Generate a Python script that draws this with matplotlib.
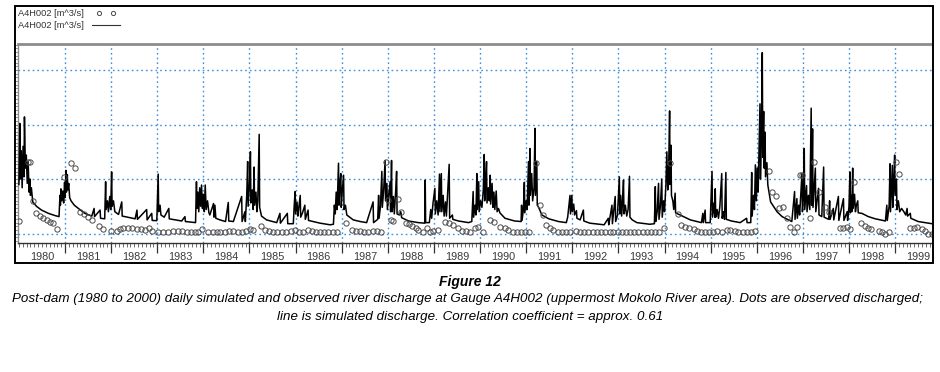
import matplotlib

matplotlib.use("Agg")
import matplotlib.pyplot as plt
from matplotlib.lines import Line2D
from matplotlib.patches import Rectangle
from matplotlib.ticker import MultipleLocator

plt.rcParams["font.family"] = ["Liberation Sans", "DejaVu Sans"]

# simulated discharge (decimal year, value) traced off the hydrograph
sim_t = [
    1980.00, 1980.02, 1980.03, 1980.05, 1980.07, 1980.09, 1980.11, 1980.12, 1980.14, 1980.16,
    1980.18, 1980.20, 1980.22, 1980.24, 1980.25, 1980.27, 1980.30, 1980.38, 1980.49, 1980.64,
    1980.78, 1980.87,
    1980.89, 1980.90, 1980.91, 1980.93, 1980.95, 1980.97, 1980.99, 1981.00, 1981.02, 1981.03,
    1981.05, 1981.06, 1981.08, 1981.10, 1981.13, 1981.20, 1981.29, 1981.43, 1981.58, 1981.63,
    1981.64, 1981.76, 1981.77, 1981.86,
    1981.88, 1981.89, 1981.92, 1981.94, 1981.97, 1981.99, 1982.01, 1982.02, 1982.05, 1982.08,
    1982.16, 1982.23, 1982.24, 1982.30, 1982.52, 1982.56, 1982.57, 1982.77, 1982.78, 1982.88,
    1982.89, 1982.99,
    1983.02, 1983.03, 1983.06, 1983.08, 1983.15, 1983.25, 1983.26, 1983.53, 1983.60, 1983.61,
    1983.83,
    1983.85, 1983.86, 1983.88, 1983.90, 1983.92, 1983.94, 1983.96, 1983.98, 1984.00, 1984.02,
    1984.04, 1984.06, 1984.09, 1984.12, 1984.14, 1984.22, 1984.23, 1984.25, 1984.27, 1984.36,
    1984.48, 1984.54, 1984.55, 1984.65, 1984.83, 1984.84, 1984.90, 1984.91,
    1984.94, 1984.96, 1984.97, 1985.00, 1985.02, 1985.03, 1985.06, 1985.08, 1985.10, 1985.11,
    1985.14, 1985.16, 1985.18, 1985.21, 1985.22, 1985.26, 1985.37, 1985.59, 1985.66, 1985.67,
    1985.82, 1985.83, 1985.95,
    1985.97, 1985.99, 1986.00, 1986.03, 1986.05, 1986.07, 1986.10, 1986.11, 1986.15, 1986.20,
    1986.21, 1986.27, 1986.28, 1986.33, 1986.53, 1986.75, 1986.82,
    1986.84, 1986.86, 1986.88, 1986.90, 1986.93, 1986.94, 1986.96, 1986.98, 1986.99, 1987.01,
    1987.04, 1987.05, 1987.08, 1987.11, 1987.25, 1987.40, 1987.54, 1987.68, 1987.69, 1987.78,
    1987.80, 1987.81,
    1987.84, 1987.87, 1987.88, 1987.91, 1987.94, 1987.95, 1987.98, 1987.99, 1988.02, 1988.05,
    1988.06, 1988.08, 1988.09, 1988.12, 1988.14, 1988.17, 1988.19, 1988.20, 1988.25, 1988.28,
    1988.30, 1988.45, 1988.66, 1988.80, 1988.81, 1988.82, 1988.90,
    1988.93, 1988.95, 1988.98, 1989.02, 1989.03, 1989.06, 1989.09, 1989.12, 1989.13, 1989.16,
    1989.17, 1989.20, 1989.22, 1989.25, 1989.27, 1989.33, 1989.34, 1989.40, 1989.41, 1989.53,
    1989.75, 1989.82,
    1989.85, 1989.86, 1989.89, 1989.91, 1989.93, 1989.94, 1989.97, 1989.98, 1990.01, 1990.04,
    1990.07, 1990.09, 1990.10, 1990.12, 1990.14, 1990.15, 1990.18, 1990.20, 1990.22, 1990.23,
    1990.26, 1990.28, 1990.30, 1990.32, 1990.35, 1990.37, 1990.40, 1990.43, 1990.54, 1990.75,
    1990.89, 1990.90, 1990.91,
    1990.94, 1990.96, 1990.97, 1991.00, 1991.02, 1991.05, 1991.06, 1991.08, 1991.09, 1991.12,
    1991.14, 1991.17, 1991.19, 1991.20, 1991.23, 1991.24, 1991.27, 1991.34, 1991.49, 1991.70,
    1991.87,
    1991.90, 1991.95, 1991.96, 1991.99, 1992.00, 1992.03, 1992.05, 1992.09, 1992.10, 1992.17,
    1992.24, 1992.25, 1992.38, 1992.69, 1992.78, 1992.79, 1992.86, 1992.87, 1992.93, 1992.94,
    1992.98,
    1993.02, 1993.03, 1993.05, 1993.07, 1993.09, 1993.11, 1993.12, 1993.15, 1993.18, 1993.21,
    1993.24, 1993.25, 1993.30, 1993.40, 1993.68, 1993.78,
    1993.80, 1993.81, 1993.84, 1993.87, 1993.88, 1993.91, 1993.94, 1993.95, 1993.98, 1994.00,
    1994.03, 1994.05, 1994.07, 1994.09, 1994.11, 1994.12, 1994.14, 1994.15, 1994.18, 1994.20,
    1994.23, 1994.24, 1994.34, 1994.56, 1994.80, 1994.83, 1994.84, 1994.88, 1994.89, 1994.99,
    1995.03, 1995.04, 1995.07, 1995.09, 1995.10, 1995.11, 1995.14, 1995.17, 1995.20, 1995.24,
    1995.25, 1995.28, 1995.30, 1995.33, 1995.34, 1995.45, 1995.64, 1995.78, 1995.79, 1995.87,
    1995.89, 1995.90, 1995.93, 1995.95, 1995.97, 1995.99, 1996.01, 1996.03, 1996.05, 1996.07,
    1996.08, 1996.10, 1996.12, 1996.13, 1996.15, 1996.16, 1996.18, 1996.19, 1996.22, 1996.24,
    1996.30, 1996.44, 1996.55, 1996.69, 1996.76,
    1996.82, 1996.83, 1996.87, 1996.88, 1996.91, 1996.93, 1996.98, 1996.99, 1997.01, 1997.03,
    1997.04, 1997.08, 1997.09, 1997.12, 1997.15, 1997.18, 1997.19, 1997.21, 1997.22, 1997.27,
    1997.28, 1997.34, 1997.35, 1997.41, 1997.45, 1997.46, 1997.56, 1997.58, 1997.59, 1997.66,
    1997.67, 1997.77, 1997.78, 1997.88, 1997.89, 1997.96, 1997.97,
    1998.00, 1998.02, 1998.03, 1998.05, 1998.06, 1998.08, 1998.09, 1998.12, 1998.14, 1998.16,
    1998.19, 1998.20, 1998.28, 1998.42, 1998.57, 1998.79, 1998.82, 1998.83,
    1998.87, 1998.89, 1998.90, 1998.94, 1998.95, 1998.97, 1998.99, 1999.00, 1999.03, 1999.04,
    1999.07, 1999.10, 1999.14, 1999.19, 1999.23, 1999.26, 1999.27, 1999.33, 1999.34, 1999.50,
    1999.72, 1999.80,
]
sim_q = [
    4.5, 10.1, 5.0, 7.6, 4.2, 8.0, 5.2, 10.7, 6.0, 7.2,
    4.6, 6.6, 3.8, 5.0, 3.5, 4.2, 2.9, 2.5, 2.15, 1.85,
    1.65, 1.55,
    3.5, 2.6, 4.1, 3.0, 3.9, 2.8, 4.7, 3.3, 5.8, 3.8,
    5.4, 4.0, 4.6, 3.3, 3.0, 2.6, 2.3, 1.85, 1.6, 2.3,
    1.55, 2.15, 1.4, 1.35,
    4.75, 2.2, 3.0, 2.0, 3.4, 2.2, 5.65, 2.5, 3.0, 2.0,
    1.75, 2.9, 1.6, 1.55, 1.35, 2.15, 1.3, 2.2, 1.25, 1.85,
    1.2, 1.18,
    5.45, 2.0, 2.6, 1.7, 1.5, 2.3, 1.35, 1.15, 1.55, 1.1,
    1.0,
    4.75, 2.3, 3.8, 2.0, 4.2, 2.5, 4.45, 2.3, 3.6, 2.0,
    4.45, 2.2, 3.0, 1.9, 1.7, 2.75, 1.5, 2.6, 1.4, 1.25,
    1.1, 2.85, 1.15, 1.1, 3.4, 1.1, 2.0, 1.1,
    3.5, 6.6, 2.5, 4.5, 7.5, 2.8, 4.0, 2.2, 6.1, 2.6,
    3.8, 2.0, 3.0, 9.1, 2.4, 1.6, 1.25, 1.0, 1.85, 0.95,
    1.85, 0.9, 0.9,
    2.6, 3.85, 1.8, 2.9, 1.6, 2.4, 3.5, 1.5, 1.9, 2.6,
    1.3, 2.15, 1.2, 1.15, 0.95, 0.8, 0.85,
    2.6, 1.8, 3.8, 2.2, 6.45, 2.6, 4.5, 5.5, 2.4, 3.8,
    5.35, 2.2, 2.6, 1.7, 1.25, 1.1, 1.0, 2.9, 1.0, 1.3,
    3.5, 1.4,
    2.5, 5.7, 2.4, 4.0, 6.7, 3.0, 4.6, 2.2, 3.6, 4.75,
    2.0, 6.7, 2.0, 3.4, 1.8, 3.9, 5.7, 1.8, 1.7, 2.0,
    1.45, 1.15, 1.0, 0.95, 4.9, 1.0, 1.0,
    2.2, 1.4, 2.8, 4.15, 1.8, 3.0, 1.7, 5.45, 2.0, 5.5,
    2.0, 3.5, 1.6, 2.9, 1.6, 6.35, 1.4, 1.7, 1.3, 1.15,
    1.0, 1.1,
    3.85, 1.5, 2.6, 1.7, 5.5, 2.2, 4.75, 2.0, 3.0, 2.4,
    4.0, 7.25, 3.0, 4.5, 6.6, 2.8, 4.2, 3.0, 5.35, 2.7,
    4.6, 2.4, 3.8, 2.2, 3.9, 2.0, 2.3, 1.9, 1.4, 1.15,
    1.1, 2.6, 1.2,
    2.2, 4.7, 1.9, 3.0, 2.2, 6.6, 2.6, 7.8, 3.5, 5.5,
    3.0, 4.2, 9.65, 3.5, 6.6, 2.6, 2.4, 1.7, 1.35, 1.1,
    1.0,
    1.5, 3.5, 1.8, 3.5, 2.0, 2.7, 1.7, 2.1, 1.4, 1.25,
    2.15, 1.15, 0.95, 0.8, 1.4, 0.8, 2.6, 0.9, 3.4, 1.1,
    1.7,
    5.2, 1.8, 3.5, 1.6, 3.0, 4.9, 1.8, 2.6, 1.6, 2.2,
    5.25, 1.5, 1.25, 1.0, 0.85, 0.9,
    4.3, 1.1, 2.0, 4.6, 1.3, 2.5, 5.0, 1.5, 3.0, 2.0,
    4.5, 7.5, 4.0, 6.0, 11.25, 4.5, 8.1, 3.5, 3.0, 2.2,
    3.7, 1.9, 1.7, 1.25, 1.0, 1.85, 1.0, 2.15, 1.0, 1.0,
    5.7, 1.5, 2.8, 1.5, 4.1, 1.5, 2.2, 1.4, 2.5, 5.5,
    1.4, 2.0, 1.3, 5.6, 1.3, 1.15, 1.0, 1.4, 1.0, 1.0,
    5.6, 1.6, 3.5, 2.2, 6.3, 3.0, 6.0, 3.8, 8.0, 11.9,
    5.0, 9.0, 16.6, 7.0, 11.2, 6.0, 9.3, 5.2, 6.5, 4.45,
    2.9, 2.0, 1.55, 1.25, 1.1,
    3.85, 1.3, 3.2, 1.4, 2.6, 1.7, 5.5, 2.0, 3.5, 7.8,
    2.2, 4.4, 2.0, 3.5, 2.2, 11.5, 2.6, 9.6, 2.4, 6.0,
    2.0, 4.15, 1.7, 1.55, 6.1, 1.5, 1.3, 3.0, 1.3, 2.3,
    1.25, 3.4, 1.2, 3.2, 1.2, 2.0, 1.2,
    2.5, 5.65, 1.9, 3.5, 2.0, 6.0, 2.3, 3.6, 2.0, 2.6,
    3.0, 1.9, 1.85, 1.55, 1.35, 1.15, 2.6, 1.2,
    2.5, 6.4, 2.0, 6.25, 2.4, 4.5, 7.2, 3.5, 5.0, 2.2,
    3.0, 2.0, 2.3, 2.0, 1.7, 2.3, 1.6, 1.85, 1.4, 1.1,
    0.95, 0.9,
]

# observed discharge (roughly monthly samples)
obs_t = [
    1980.00, 1980.19, 1980.25, 1980.31, 1980.38, 1980.46, 1980.53, 1980.60, 1980.67, 1980.74,
    1980.83, 1980.98, 1981.13, 1981.21, 1981.32, 1981.42, 1981.50, 1981.59, 1981.74, 1981.83,
    1981.99, 1982.12, 1982.19, 1982.26, 1982.37, 1982.46, 1982.55, 1982.65, 1982.73, 1982.81,
    1982.88, 1983.02, 1983.13, 1983.24, 1983.35, 1983.44, 1983.53, 1983.64, 1983.73, 1983.82,
    1983.89, 1983.96, 1984.11, 1984.20, 1984.29, 1984.37, 1984.47, 1984.56, 1984.65, 1984.74,
    1984.83, 1984.92, 1985.01, 1985.08, 1985.25, 1985.34, 1985.43, 1985.52, 1985.60, 1985.70,
    1985.79, 1985.89, 1985.99, 1986.08, 1986.17, 1986.26, 1986.35, 1986.44, 1986.53, 1986.62,
    1986.71, 1986.80, 1986.89, 1987.09, 1987.22, 1987.30, 1987.40, 1987.48, 1987.58, 1987.67,
    1987.76, 1987.85, 1987.95, 1988.01, 1988.06, 1988.12, 1988.23, 1988.29, 1988.39, 1988.46,
    1988.53, 1988.60, 1988.66, 1988.77, 1988.84, 1988.92, 1988.99, 1989.08, 1989.24, 1989.33,
    1989.42, 1989.52, 1989.60, 1989.69, 1989.78, 1989.88, 1989.96, 1990.07, 1990.22, 1990.31,
    1990.43, 1990.53, 1990.61, 1990.71, 1990.80, 1990.89, 1990.98, 1991.06, 1991.22, 1991.30,
    1991.36, 1991.44, 1991.52, 1991.59, 1991.68, 1991.77, 1991.86, 1991.95, 1992.08, 1992.17,
    1992.26, 1992.35, 1992.44, 1992.53, 1992.62, 1992.71, 1992.81, 1992.89, 1992.99, 1993.07,
    1993.17, 1993.25, 1993.34, 1993.43, 1993.53, 1993.62, 1993.71, 1993.80, 1993.89, 1993.98,
    1994.12, 1994.29, 1994.36, 1994.45, 1994.54, 1994.63, 1994.71, 1994.79, 1994.88, 1994.97,
    1995.06, 1995.13, 1995.24, 1995.35, 1995.42, 1995.52, 1995.60, 1995.70, 1995.78, 1995.88,
    1995.97, 1996.27, 1996.33, 1996.41, 1996.49, 1996.56, 1996.65, 1996.72, 1996.80, 1996.87,
    1996.94, 1996.98, 1997.16, 1997.25, 1997.34, 1997.48, 1997.57, 1997.81, 1997.88, 1997.95,
    1998.03, 1998.10, 1998.26, 1998.34, 1998.41, 1998.48, 1998.64, 1998.71, 1998.79, 1998.86,
    1999.02, 1999.09, 1999.33, 1999.40, 1999.47, 1999.58, 1999.65, 1999.72, 1999.79,
]
obs_q = [
    1.15, 6.6, 6.6, 3.0, 1.85, 1.65, 1.4, 1.25, 1.1, 1.0,
    0.4, 5.2, 6.45, 6.0, 2.0, 1.75, 1.55, 1.2, 0.7, 0.4,
    0.25, 0.25, 0.4, 0.55, 0.5, 0.5, 0.4, 0.4, 0.3, 0.5,
    0.25, 0.15, 0.15, 0.15, 0.25, 0.25, 0.25, 0.15, 0.15, 0.1,
    0.1, 0.4, 0.15, 0.15, 0.15, 0.15, 0.15, 0.25, 0.25, 0.15,
    0.15, 0.25, 0.4, 0.3, 0.7, 0.3, 0.25, 0.15, 0.15, 0.15,
    0.15, 0.25, 0.3, 0.15, 0.15, 0.3, 0.25, 0.15, 0.1, 0.1,
    0.1, 0.1, 0.1, 0.95, 0.3, 0.25, 0.25, 0.15, 0.15, 0.25,
    0.25, 0.1, 6.6, 3.1, 1.25, 1.15, 3.2, 2.0, 1.0, 0.9,
    0.7, 0.55, 0.3, 0.1, 0.55, 0.1, 0.25, 0.3, 1.1, 0.95,
    0.8, 0.5, 0.25, 0.25, 0.15, 0.5, 0.6, 0.15, 1.25, 1.1,
    0.6, 0.55, 0.3, 0.15, 0.1, 0.1, 0.1, 0.1, 6.45, 2.6,
    1.7, 0.8, 0.55, 0.3, 0.15, 0.1, 0.1, 0.15, 0.25, 0.15,
    0.15, 0.1, 0.1, 0.1, 0.1, 0.1, 0.1, 0.1, 0.15, 0.15,
    0.1, 0.15, 0.15, 0.15, 0.15, 0.1, 0.1, 0.1, 0.1, 0.55,
    6.5, 1.75, 0.8, 0.6, 0.55, 0.4, 0.25, 0.15, 0.1, 0.1,
    0.15, 0.25, 0.15, 0.3, 0.3, 0.25, 0.15, 0.15, 0.15, 0.15,
    0.25, 5.7, 3.85, 3.45, 2.35, 2.4, 1.45, 0.6, 0.15, 0.6,
    5.35, 5.4, 1.4, 6.55, 3.8, 2.45, 2.0, 0.55, 0.55, 0.6,
    0.45, 4.75, 0.95, 0.7, 0.55, 0.45, 0.25, 0.1, 0.0, 0.1,
    6.55, 5.45, 0.55, 0.55, 0.6, 0.4, 0.25, 0.0, 0.0,
]

years = list(range(1980, 2000))
grid_q = [0, 5, 10, 15]
series_label = "A4H002 [m^3/s]"
caption_title = "Figure 12"
caption_lines = [
    "Post-dam (1980 to 2000) daily simulated and observed river discharge at Gauge A4H002 "
    "(uppermost Mokolo River area). Dots are observed discharged;",
    "line is simulated discharge. Correlation coefficient = approx. 0.61",
]

W, H = 940, 372
fig = plt.figure(figsize=(W / 100, H / 100), dpi=100)
ax = fig.add_axes([18 / W, 1 - 243 / H, (932 - 18) / W, (243 - 44) / H])

ax.plot(sim_t, sim_q, color="black", lw=1.1, zorder=3)
ax.plot(
    obs_t, obs_q, ls="none", marker="o", ms=3.8, mfc="none",
    mec="#4a4a4a", mew=0.7, zorder=4,
)

ax.set_xlim(1979.98, 1999.80)
ax.set_ylim(-0.87, 17.39)
ax.set_xticks(years[1:])
ax.xaxis.set_minor_locator(MultipleLocator(1 / 12))
ax.set_yticks(grid_q)
ax.yaxis.set_minor_locator(MultipleLocator(1 / 3))
ax.set_xticklabels([])
ax.set_yticklabels([])
ax.grid(True, which="major", color="#3f8fdc", ls=(0, (1.2, 2.2)), lw=1.0)
ax.tick_params(axis="x", which="major", direction="out", length=7, width=0.9, color="#333333")
ax.tick_params(axis="x", which="minor", direction="out", length=3, width=0.6, color="#555555")
ax.tick_params(axis="y", which="major", direction="out", length=3, width=0.6, color="#666666")
ax.tick_params(axis="y", which="minor", direction="out", length=2, width=0.5, color="#666666")

for side in ("top", "left"):
    ax.spines[side].set_color("#8c8c8c")
ax.spines["top"].set_linewidth(2.0)
ax.spines["left"].set_linewidth(1.0)
ax.spines["right"].set_visible(False)
ax.spines["bottom"].set_color("#333333")
ax.spines["bottom"].set_linewidth(1.0)

for yr in years:
    ax.text(
        yr + 0.5, -0.07, str(yr), transform=ax.get_xaxis_transform(),
        ha="center", va="center", fontsize=7.8, color="#3a3a3a",
    )

# outer frame and small legend
fig.add_artist(Rectangle(
    (15 / W, 1 - 263 / H), (933 - 15) / W, (263 - 6) / H,
    transform=fig.transFigure, fill=False, ec="black", lw=1.4,
))
fig.text(18 / W, 1 - 13 / H, series_label, fontsize=6.7, color="#333333", va="center")
fig.text(18 / W, 1 - 25 / H, series_label, fontsize=6.7, color="#333333", va="center")
fig.add_artist(Line2D(
    [99 / W, 113 / W], [1 - 13 / H] * 2, ls="none", marker="o", ms=3.0,
    mfc="none", mec="#4a4a4a", mew=0.7, transform=fig.transFigure,
))
fig.add_artist(Line2D(
    [92 / W, 120 / W], [1 - 25 / H] * 2, color="#333333", lw=0.8,
    transform=fig.transFigure,
))

fig.text(470 / W, 1 - 282 / H, caption_title, fontsize=10, fontweight="bold",
         style="italic", ha="center", va="center")
fig.text(468 / W, 1 - 299 / H, caption_lines[0], fontsize=9.6, style="italic",
         ha="center", va="center")
fig.text(470 / W, 1 - 317 / H, caption_lines[1], fontsize=9.6, style="italic",
         ha="center", va="center")

fig.savefig("out.png", dpi=100)
